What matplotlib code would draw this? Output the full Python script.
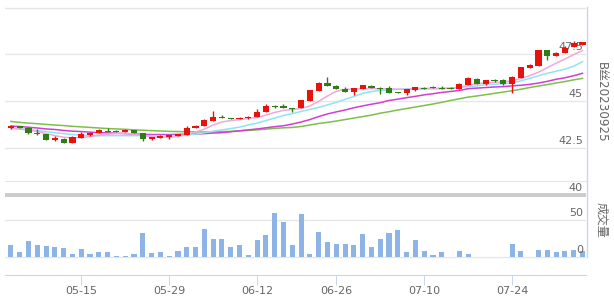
import matplotlib
matplotlib.use('Agg')
import matplotlib.pyplot as plt
from matplotlib.patches import Rectangle
from matplotlib.lines import Line2D
import numpy as np

plt.rcParams['font.family'] = ['DejaVu Sans', 'Noto Sans CJK SC']

# daily candles (trading-day order)
opens = [43.56, 43.65, 43.58, 43.32, 43.25, 42.91, 43.00, 42.77, 43.06, 43.22,
         43.29, 43.43, 43.39, 43.36, 43.45, 43.29, 42.99, 43.04, 43.09, 43.15,
         43.20, 43.56, 43.66, 43.93, 44.13, 44.11, 44.04, 44.08, 44.15, 44.44,
         44.77, 44.74, 44.65, 44.63, 45.01, 45.54, 45.96, 45.83, 45.67, 45.49,
         45.65, 45.83, 45.70, 45.73, 45.49, 45.46, 45.58, 45.70, 45.73, 45.73,
         45.70, 45.65, 45.86, 46.21, 45.90, 46.12, 46.12, 45.90, 46.26, 46.78,
         46.89, 47.73, 47.42, 47.60, 47.89, 48.01]
highs = [43.72, 43.68, 43.60, 43.49, 43.26, 43.16, 43.01, 43.16, 43.38, 43.33,
         43.54, 43.58, 43.45, 43.52, 43.46, 43.30, 43.10, 43.17, 43.21, 43.27,
         43.70, 43.71, 44.06, 44.47, 44.27, 44.12, 44.18, 44.19, 44.56, 44.83,
         44.81, 44.87, 44.66, 45.05, 45.59, 46.05, 46.29, 45.84, 45.78, 45.70,
         45.89, 45.89, 45.74, 45.81, 45.50, 45.64, 45.78, 45.76, 45.81, 45.81,
         45.78, 45.99, 46.29, 46.22, 46.13, 46.17, 46.17, 46.33, 46.84, 46.97,
         47.75, 47.74, 47.62, 47.96, 48.20, 48.18]
lows = [43.52, 43.55, 43.23, 43.22, 42.92, 42.90, 42.76, 42.76, 43.05, 43.13,
        43.28, 43.35, 43.35, 43.35, 43.28, 42.86, 42.93, 43.03, 42.99, 43.14,
        43.19, 43.55, 43.65, 43.92, 44.08, 44.03, 44.03, 44.07, 44.14, 44.43,
        44.63, 44.62, 44.41, 44.62, 45.00, 45.53, 45.80, 45.64, 45.48, 45.33,
        45.64, 45.69, 45.40, 45.45, 45.45, 45.35, 45.53, 45.66, 45.68, 45.66,
        45.64, 45.64, 45.85, 45.91, 45.89, 46.05, 45.89, 45.46, 46.25, 46.77,
        46.88, 47.21, 47.41, 47.59, 47.88, 48.00]
closes = [43.66, 43.57, 43.29, 43.24, 42.93, 43.02, 42.77, 43.09, 43.27, 43.32,
          43.45, 43.37, 43.37, 43.45, 43.29, 42.99, 43.09, 43.15, 43.20, 43.25,
          43.58, 43.70, 43.99, 44.15, 44.10, 44.04, 44.13, 44.18, 44.45, 44.76,
          44.67, 44.64, 44.61, 45.04, 45.58, 45.96, 45.81, 45.65, 45.49, 45.69,
          45.85, 45.70, 45.67, 45.46, 45.46, 45.63, 45.74, 45.67, 45.69, 45.67,
          45.65, 45.90, 46.22, 45.92, 46.12, 46.06, 45.90, 46.28, 46.83, 46.96,
          47.74, 47.42, 47.60, 47.84, 48.10, 48.17]
volume = [16.8, 6.8, 21.8, 16.8, 15.0, 13.6, 12.3, 4.1, 10.9, 4.1,
          6.8, 6.8, 1.4, 1.4, 4.1, 32.7, 5.4, 6.8, 1.4, 8.2,
          13.6, 13.6, 38.1, 24.5, 24.5, 13.6, 16.3, 2.7, 23.2, 30.0,
          60.0, 47.7, 16.3, 58.6, 4.1, 34.0, 20.4, 17.7, 17.7, 16.3,
          31.3, 13.6, 24.5, 32.7, 36.8, 6.8, 23.2, 8.2, 2.7, 6.8,
          0, 8.2, 4.1, 0, 0, 0, 0, 17.7, 8.2, 0,
          9.5, 9.5, 6.8, 8.2, 9.5, 8.2]

# moving averages
ma5 = [43.54, 43.51, 43.46, 43.38, 43.27, 43.16, 43.08, 43.04, 43.06, 43.11,
       43.19, 43.24, 43.27, 43.30, 43.24, 43.16, 43.11, 43.08, 43.08, 43.11,
       43.22, 43.35, 43.51, 43.73, 43.89, 43.97, 44.02, 44.08, 44.13, 44.26,
       44.40, 44.51, 44.56, 44.61, 44.75, 44.99, 45.28, 45.53, 45.63, 45.66,
       45.67, 45.67, 45.66, 45.66, 45.64, 45.63, 45.63, 45.66, 45.66, 45.66,
       45.69, 45.74, 45.85, 45.93, 45.98, 46.01, 46.04, 46.09, 46.22, 46.36,
       46.55, 46.79, 47.03, 47.25, 47.49, 47.70]
ma10 = [43.57, 43.53, 43.49, 43.43, 43.38, 43.32, 43.27, 43.22, 43.19, 43.16,
        43.16, 43.16, 43.16, 43.16, 43.16, 43.16, 43.16, 43.16, 43.16, 43.17,
        43.19, 43.24, 43.32, 43.40, 43.47, 43.54, 43.62, 43.73, 43.83, 43.97,
        44.10, 44.24, 44.34, 44.45, 44.56, 44.67, 44.80, 44.94, 45.10, 45.25,
        45.42, 45.51, 45.58, 45.61, 45.63, 45.66, 45.69, 45.69, 45.69, 45.70,
        45.71, 45.74, 45.77, 45.82, 45.88, 45.90, 45.93, 45.98, 46.09, 46.22,
        46.36, 46.49, 46.60, 46.71, 46.87, 47.11]
ma20 = [43.67, 43.65, 43.61, 43.57, 43.52, 43.49, 43.44, 43.40, 43.38, 43.35,
        43.32, 43.31, 43.29, 43.27, 43.25, 43.23, 43.22, 43.22, 43.22, 43.23,
        43.24, 43.25, 43.27, 43.30, 43.32, 43.37, 43.42, 43.47, 43.52, 43.58,
        43.64, 43.69, 43.78, 43.89, 44.02, 44.18, 44.32, 44.43, 44.53, 44.65,
        44.75, 44.84, 44.92, 45.04, 45.11, 45.19, 45.26, 45.34, 45.40, 45.47,
        45.52, 45.57, 45.67, 45.70, 45.73, 45.76, 45.78, 45.82, 45.85, 45.90,
        45.97, 46.06, 46.17, 46.25, 46.36, 46.49]
ma30 = [43.92, 43.87, 43.83, 43.80, 43.76, 43.73, 43.70, 43.66, 43.63, 43.60,
        43.57, 43.54, 43.52, 43.50, 43.47, 43.45, 43.43, 43.41, 43.39, 43.38,
        43.37, 43.36, 43.36, 43.37, 43.38, 43.39, 43.42, 43.44, 43.47, 43.51,
        43.55, 43.58, 43.60, 43.65, 43.73, 43.81, 43.87, 43.94, 44.02, 44.10,
        44.18, 44.26, 44.36, 44.44, 44.53, 44.61, 44.69, 44.77, 44.85, 44.94,
        45.04, 45.13, 45.22, 45.28, 45.35, 45.42, 45.49, 45.56, 45.64, 45.73,
        45.81, 45.89, 45.97, 46.05, 46.14, 46.22]

tick_pos = [8, 18, 28, 37, 47, 57]
tick_labels = ['05-15', '05-29', '06-12', '06-26', '07-10', '07-24']
price_levels = [40, 42.5, 45, 47.5]
price_labels = ['40', '42.5', '45', '47.5']
vol_levels = [0, 50]
vol_labels = ['0', '50']

RED = '#e8120c'
GREEN = '#2f7d14'
GRID = '#e6e6e6'
AXIS = '#ccd6eb'
TXT = '#666666'

W, H = 614, 299
fig = plt.figure(figsize=(W / 100, H / 100), dpi=100)


def box(l, t, r, b):
    return [l / W, 1 - b / H, (r - l) / W, (b - t) / H]


ax = fig.add_axes(box(5, 7, 586, 181))
axv = fig.add_axes(box(5, 198, 586, 275), sharex=ax)

x = np.arange(len(closes))
o = np.array(opens)
c = np.array(closes)
cols = np.where(c >= o, RED, GREEN)

# MA lines
ax.plot(x, ma30, color='#7cc04a', lw=1.1, zorder=2)
ax.plot(x, ma20, color='#d23ed2', lw=1.1, zorder=2)
ax.plot(x, ma10, color='#8fe4f2', lw=1.1, zorder=2)
ax.plot(x, ma5, color='#f2a8d8', lw=1.1, zorder=2)

# candles
ax.vlines(x, lows, highs, colors=cols, lw=1, zorder=3)
ax.bar(x, np.maximum(np.abs(c - o), 0.05), bottom=np.minimum(o, c), width=0.7,
       color=cols, linewidth=0, zorder=4)

ax.set_xlim(-0.67, 65.4)
ax.set_ylim(40.74, 50.03)
ax.set_yticks([42.5, 45, 47.5, 50])
ax.yaxis.grid(True, color=GRID, lw=1)
ax.set_axisbelow(True)
ax.tick_params(left=False, labelleft=False, bottom=False, labelbottom=False)
for s in ['top', 'left', 'right']:
    ax.spines[s].set_visible(False)
ax.spines['bottom'].set_color(GRID)

for v, lab in zip(price_levels, price_labels):
    ax.annotate(lab, xy=(1, v), xycoords=('axes fraction', 'data'), xytext=(-3, 2),
                textcoords='offset pixels', ha='right', va='bottom', fontsize=8,
                color=TXT, annotation_clip=False, zorder=1)

# volume
axv.bar(x, volume, width=0.58, color='#8db4e6', linewidth=0, zorder=2)
axv.set_ylim(-24.5, 80.4)
axv.set_yticks(vol_levels)
axv.yaxis.grid(True, color=GRID, lw=1)
axv.set_axisbelow(True)
axv.tick_params(axis='y', left=False, labelleft=False)
for s in ['top', 'left', 'right']:
    axv.spines[s].set_visible(False)
axv.spines['bottom'].set_color(AXIS)
axv.set_xticks(tick_pos, tick_labels)
axv.tick_params(axis='x', direction='out', length=7.2, width=0.72, color=AXIS,
                labelcolor=TXT, labelsize=8, pad=1)
for v, lab in zip(vol_levels, vol_labels):
    axv.annotate(lab, xy=(1, v), xycoords=('axes fraction', 'data'), xytext=(-3, 2),
                 textcoords='offset pixels', ha='right', va='bottom', fontsize=8,
                 color=TXT, annotation_clip=False, zorder=5)

# separator bar and right border
fig.add_artist(Rectangle((5 / W, 1 - 197 / H), 581 / W, 4 / H, transform=fig.transFigure,
                         color='#cccccc', lw=0))
fig.add_artist(Line2D([586.5 / W] * 2, [1 - 7 / H, 1 - 257 / H], color=AXIS, lw=1))

fig.text(601.7 / W, 1 - 102 / H, 'B丝20230925', rotation=270, ha='center', va='center',
         fontsize=8.6, color=TXT)
fig.text(601.7 / W, 1 - 220 / H, '成交量', rotation=270, ha='center', va='center',
         fontsize=8.6, color=TXT)

fig.savefig('out.png', dpi=100)
